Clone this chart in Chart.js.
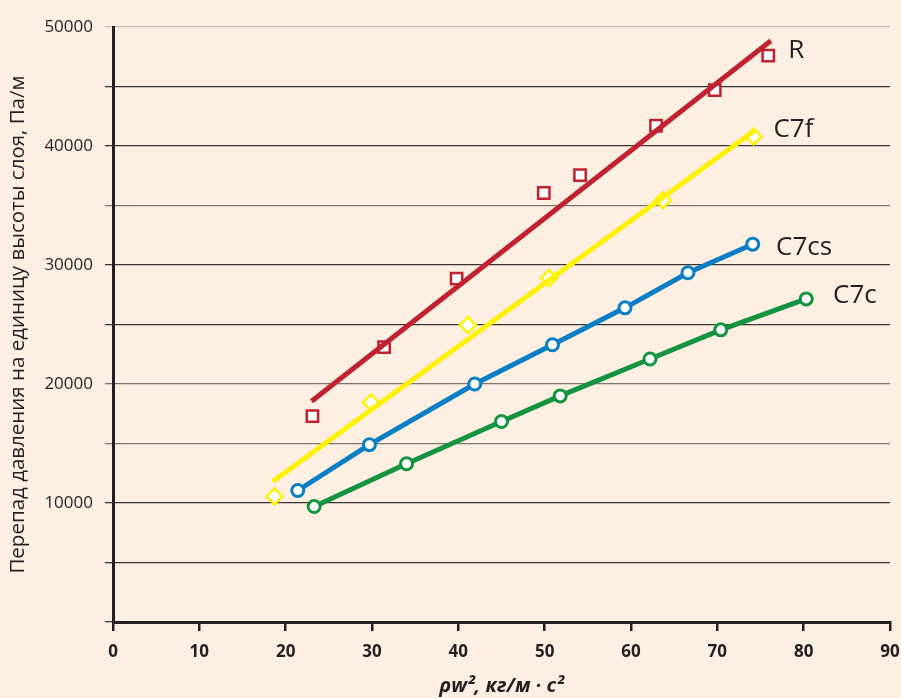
<!DOCTYPE html>
<html>
<head>
<meta charset="utf-8">
<script src="https://cdn.jsdelivr.net/npm/chart.js@4/dist/chart.umd.min.js"></script>
<style>
  html, body { margin: 0; padding: 0; background: #fdf0e3; }
  #wrap { width: 901px; height: 698px; position: relative; }
</style>
</head>
<body>
<div id="wrap"><canvas id="c"></canvas></div>
<script>
// ---- Data ----
const xTicks = [0, 10, 20, 30, 40, 50, 60, 70, 80, 90];
const yTicks = [10000, 20000, 30000, 40000, 50000];

// R : measured points (squares) + fitted line
const rX = [23.1, 31.4, 39.8, 49.9, 54.1, 62.9, 69.7, 75.9];
const rY = [17300, 23100, 28850, 36050, 37550, 41700, 44700, 47600];
const rFitX = [23.0, 76.2];
const rFitY = [18550, 48850];

// C7f : measured points (diamonds) + fitted line
const c7fX = [18.7, 29.9, 41.1, 50.5, 63.7, 74.2];
const c7fY = [10550, 18450, 24950, 28900, 35450, 40800];
const c7fFitX = [18.5, 74.4];
const c7fFitY = [11800, 41350];

// C7cs : points joined by line
const c7csX = [21.4, 29.7, 41.9, 50.9, 59.3, 66.6, 74.1];
const c7csY = [11050, 14900, 20000, 23300, 26400, 29350, 31750];

// C7c : points joined by line
const c7cX = [23.3, 34.0, 45.0, 51.8, 62.2, 70.4, 80.3];
const c7cY = [9700, 13300, 16850, 19000, 22100, 24550, 27150];

// Series labels, anchored in data units
const labelText = ['R', 'C7f', 'C7cs', 'C7c'];
const labelX = [78.2, 76.5, 76.8, 83.4];
const labelY = [48000, 41350, 31450, 27450];

const xTitle = 'ρw², кг/м · с²';
const yTitle = 'Перепад давления на единицу высоты слоя, Па/м';

// ---- Build ----
const pts = (xs, ys) => xs.map((x, i) => ({ x: x, y: ys[i] }));

const RED = '#c1222f', YEL = '#fff200', BLUE = '#0a7fc6', GREEN = '#149440';
const INK = '#231f20', BG = '#fdf0e3';

const bgPlugin = {
  id: 'bg',
  beforeDraw(chart) {
    const ctx = chart.ctx;
    ctx.save();
    ctx.fillStyle = BG;
    ctx.fillRect(0, 0, chart.width, chart.height);
    ctx.restore();
  }
};

const labelPlugin = {
  id: 'seriesLabels',
  afterDatasetsDraw(chart) {
    const ctx = chart.ctx;
    const xs = chart.scales.x, ys = chart.scales.y;
    ctx.save();
    ctx.font = '26px "Open Sans"';
    ctx.fillStyle = INK;
    ctx.textAlign = 'left';
    ctx.textBaseline = 'middle';
    labelText.forEach((t, i) => {
      ctx.fillText(t, xs.getPixelForValue(labelX[i]), ys.getPixelForValue(labelY[i]));
    });
    ctx.restore();
  }
};

const lineDs = (label, data, color) => ({
  type: 'line', label, data, borderColor: color, borderWidth: 5,
  pointRadius: 0, showLine: true, fill: false, tension: 0, clip: false,
  borderCapStyle: 'butt'
});

new Chart(document.getElementById('c'), {
  type: 'scatter',
  data: {
    datasets: [
      lineDs('R fit', pts(rFitX, rFitY), RED),
      lineDs('C7f fit', pts(c7fFitX, c7fFitY), YEL),
      {
        type: 'line', label: 'C7c', data: pts(c7cX, c7cY),
        borderColor: GREEN, borderWidth: 5, tension: 0, clip: false,
        pointStyle: 'circle', pointRadius: 6, pointBorderWidth: 3,
        pointBackgroundColor: '#ffffff', pointBorderColor: GREEN
      },
      {
        type: 'line', label: 'C7cs', data: pts(c7csX, c7csY),
        borderColor: BLUE, borderWidth: 5, tension: 0, clip: false,
        pointStyle: 'circle', pointRadius: 6, pointBorderWidth: 3,
        pointBackgroundColor: '#ffffff', pointBorderColor: BLUE
      },
      {
        label: 'C7f', data: pts(c7fX, c7fY), showLine: false, clip: false,
        pointStyle: 'rectRot', pointRadius: 8, pointBorderWidth: 2.5,
        pointBackgroundColor: '#ffffff', pointBorderColor: YEL
      },
      {
        label: 'R', data: pts(rX, rY), showLine: false, clip: false,
        pointStyle: 'rect', pointRadius: 8, pointBorderWidth: 2.5,
        pointBackgroundColor: '#ffffff', pointBorderColor: RED
      }
    ]
  },
  options: {
    responsive: true,
    maintainAspectRatio: false,
    animation: false,
    layout: { padding: { top: 27, right: 0, left: 0, bottom: 0 } },
    plugins: {
      legend: { display: false },
      tooltip: { enabled: false },
      title: { display: false }
    },
    scales: {
      x: {
        type: 'linear', min: 0, max: 90,
        afterFit(s) { s.height = 76; s.paddingRight = 11; s.paddingLeft = 0; },
        afterBuildTicks(s) { s.ticks = xTicks.map(v => ({ value: v })); },
        ticks: {
          color: INK, padding: 11,
          font: { family: '"Open Sans"', size: 17, weight: 'bold' }
        },
        grid: { drawOnChartArea: false, drawTicks: true, tickLength: 9, color: INK, lineWidth: 2.5 },
        border: { display: true, color: INK, width: 3 },
        title: {
          display: true, text: xTitle, color: INK,
          font: { family: '"Open Sans"', size: 20, weight: 'bold', style: 'italic' },
          padding: { top: 0, bottom: 0 }
        }
      },
      y: {
        type: 'linear', min: 0, max: 50000,
        afterFit(s) { s.width = 113; },
        ticks: {
          stepSize: 5000, color: INK, padding: 12,
          font: { family: '"Open Sans"', size: 17 },
          callback: v => (yTicks.includes(v) ? String(v) : '')
        },
        grid: {
          drawTicks: true, tickLength: 8, lineWidth: 1.3,
          color: ctx => {
            const v = ctx.tick && ctx.tick.value;
            if (v === 50000) return '#c4bab2';
            if (v === 35000 || v === 20000 || v === 15000) return '#7d7570';
            return '#3a3432';
          }
        },
        border: { display: true, color: INK, width: 3 },
        title: {
          display: true, text: yTitle, color: INK,
          font: { family: '"Open Sans"', size: 20.5 },
          padding: { top: 6, bottom: 0 }
        }
      }
    }
  },
  plugins: [bgPlugin, labelPlugin]
});
</script>
</body>
</html>
